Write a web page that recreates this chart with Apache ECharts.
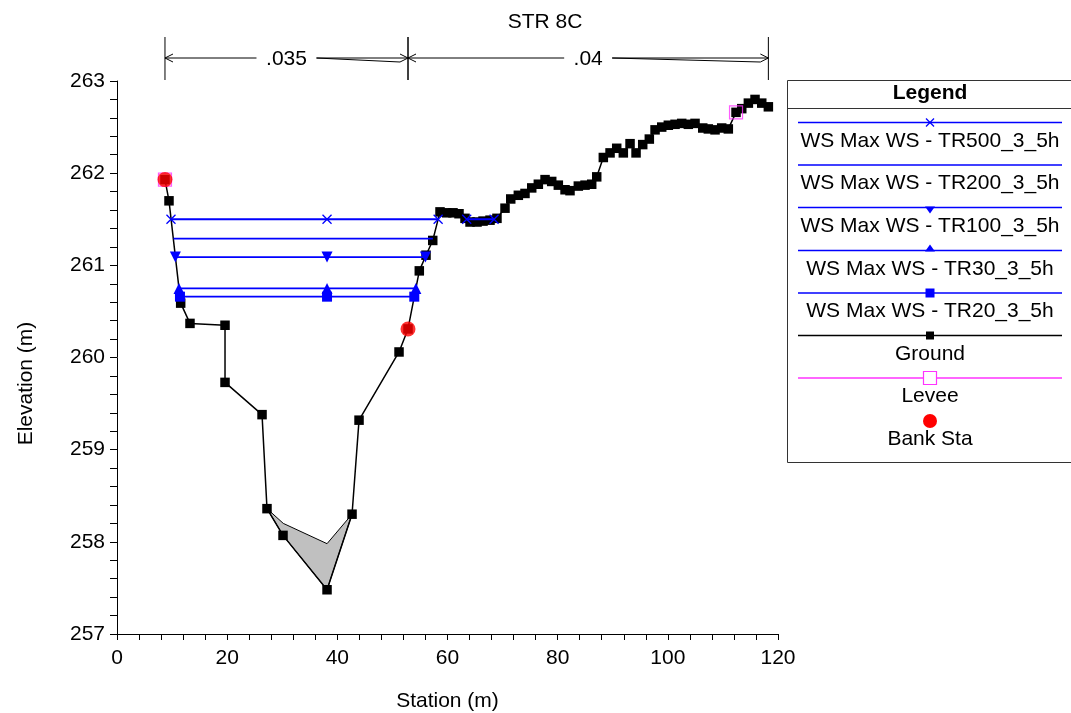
<!DOCTYPE html>
<html>
<head>
<meta charset="utf-8">
<script src="https://cdn.jsdelivr.net/npm/echarts@6/dist/echarts.min.js"></script>
<style>
html,body{margin:0;padding:0;background:#fff;}
#c{width:1071px;height:713px;}
</style>
</head>
<body>
<div id="c"></div>
<script>
// ---------- data ----------
const chartTitle = 'STR 8C';
const groundStation = [8.71, 9.44, 11.56, 13.25, 19.61, 19.61, 26.33, 27.23, 30.14, 38.13, 42.67, 43.94, 51.20, 52.83,
  54.88, 56.10, 57.32, 58.64, 59.86, 61.00, 62.09, 63.18, 64.09, 65.36, 66.45, 67.72, 68.98, 70.44, 71.48, 72.86, 74.07,
  75.29, 76.49, 77.71, 78.92, 80.12, 81.34, 82.24, 83.75, 84.97, 86.18, 87.09, 88.29, 89.51, 90.72, 91.92, 93.14, 94.23,
  95.44, 96.64, 97.68, 98.89, 100.09, 101.31, 102.52, 103.72, 104.94, 106.34, 107.35, 108.57, 109.78, 110.98, 112.38,
  113.42, 114.62, 115.83, 117.05, 118.25];
const groundElev = [261.93, 261.70, 260.59, 260.37, 260.35, 259.73, 259.38, 258.36, 258.07, 257.48, 258.30, 259.32, 260.06, 260.31,
  260.94, 261.11, 261.27, 261.58, 261.57, 261.57, 261.56, 261.51, 261.47, 261.47, 261.48, 261.49, 261.51, 261.62, 261.72, 261.76, 261.78,
  261.84, 261.88, 261.93, 261.91, 261.87, 261.82, 261.81, 261.86, 261.87, 261.88, 261.96, 262.17, 262.22, 262.27, 262.22, 262.32, 262.22,
  262.31, 262.37, 262.47, 262.50, 262.52, 262.53, 262.54, 262.53, 262.54, 262.49, 262.48, 262.47, 262.49, 262.48, 262.66,
  262.70, 262.76, 262.80, 262.76, 262.72];

const ws500 = [[9.80, 261.50], [38.13, 261.50], [58.30, 261.50], ['-', '-'], [63.49, 261.50], [68.45, 261.50]];
const ws200 = [[10.25, 261.29], [57.35, 261.29]];
const ws100 = [[10.60, 261.09], [38.13, 261.09], [56.00, 261.09]];
const ws30  = [[11.25, 260.75], [38.13, 260.75], [54.26, 260.75]];
const ws20  = [[11.43, 260.66], [38.13, 260.66], [53.97, 260.66]];

const leveeStation = [8.71, 112.38];
const leveeElev = [261.93, 262.66];
const bankStation = [8.71, 52.83];
const bankElev = [261.93, 260.31];

// grey filled region (upper outline then ground back)
const fillStation = [27.23, 30.19, 38.13, 42.67, 38.13, 30.14];
const fillElev = [258.36, 258.20, 257.98, 258.30, 257.48, 258.07];

// Manning's n regions
const nStart = [8.71, 52.83];
const nEnd = [52.83, 118.25];
const nValue = ['.035', '.04'];

const xTicks = {min: 0, max: 120, interval: 20};
const yTicks = {min: 257, max: 263, interval: 1};

const legendNames = ['WS Max WS - TR500_3_5h', 'WS Max WS - TR200_3_5h', 'WS Max WS - TR100_3_5h',
  'WS Max WS - TR30_3_5h', 'WS Max WS - TR20_3_5h', 'Ground', 'Levee', 'Bank Sta'];

// ---------- styling ----------
const FONT = '"Liberation Sans", Arial, sans-serif';
const FS = 21;
const BLUE = '#0000ff';
const xSym = 'path://M0,0L10,10M10,0L0,10';

function zip(a, b) { return a.map((v, i) => [v, b[i]]); }

const chart = echarts.init(document.getElementById('c'), null, {renderer: 'canvas'});

// legend graphic
const LX1 = 798, LX2 = 1062, LCX = 930;
const legendEls = [];
legendEls.push({type: 'rect', shape: {x: 787.5, y: 80.5, width: 286, height: 382}, style: {fill: '#fff', stroke: '#333', lineWidth: 1}, z: 10});
legendEls.push({type: 'text', x: LCX, y: 93, style: {text: 'Legend', font: 'bold ' + FS + 'px ' + FONT, fill: '#000', align: 'center', verticalAlign: 'middle'}, z: 11});
legendEls.push({type: 'line', shape: {x1: 787.5, y1: 108.5, x2: 1071, y2: 108.5}, style: {stroke: '#333', lineWidth: 1}, z: 11});
const lineYs = [122.5, 165, 207.5, 250.5, 293, 335.5, 378, 421];
const lineColors = [BLUE, BLUE, BLUE, BLUE, BLUE, '#000', '#ff33ff', null];
legendNames.forEach((nm, i) => {
  const ly = lineYs[i];
  if (lineColors[i]) {
    legendEls.push({type: 'line', shape: {x1: LX1, y1: ly, x2: LX2, y2: ly}, style: {stroke: lineColors[i], lineWidth: 1.5}, z: 11});
  }
  let m = null;
  if (i === 0) m = {type: 'group', z: 12, children: [
    {type: 'line', shape: {x1: LCX - 4, y1: ly - 4, x2: LCX + 4, y2: ly + 4}, style: {stroke: BLUE, lineWidth: 1.2}, z: 12},
    {type: 'line', shape: {x1: LCX - 4, y1: ly + 4, x2: LCX + 4, y2: ly - 4}, style: {stroke: BLUE, lineWidth: 1.2}, z: 12}]};
  if (i === 2) m = {type: 'polygon', shape: {points: [[LCX - 5, ly - 1], [LCX + 5, ly - 1], [LCX, ly + 6]]}, style: {fill: BLUE}, z: 12};
  if (i === 3) m = {type: 'polygon', shape: {points: [[LCX - 5, ly + 1], [LCX + 5, ly + 1], [LCX, ly - 6]]}, style: {fill: BLUE}, z: 12};
  if (i === 4) m = {type: 'rect', shape: {x: LCX - 4.5, y: ly - 4.5, width: 9, height: 9}, style: {fill: BLUE}, z: 12};
  if (i === 5) m = {type: 'rect', shape: {x: LCX - 4, y: ly - 4, width: 8, height: 8}, style: {fill: '#000'}, z: 12};
  if (i === 6) m = {type: 'rect', shape: {x: LCX - 6.5, y: ly - 6.5, width: 13, height: 13}, style: {fill: '#fff', stroke: '#ff33ff', lineWidth: 1.2}, z: 12};
  if (i === 7) m = {type: 'circle', shape: {cx: LCX, cy: ly, r: 7}, style: {fill: '#ff0000'}, z: 12};
  if (m) legendEls.push(m);
  legendEls.push({type: 'text', x: LCX, y: ly + 18.5, style: {text: nm, font: FS + 'px ' + FONT, fill: '#000', align: 'center', verticalAlign: 'middle'}, z: 11});
});

function lineSeries(name, data, symbol, opts) {
  return Object.assign({
    name: name, type: 'line', data: data, symbol: symbol, symbolSize: 10,
    showSymbol: symbol !== 'none', connectNulls: false,
    lineStyle: {color: BLUE, width: 1.8}, itemStyle: {color: BLUE},
    z: 4, animation: false
  }, opts || {});
}

const option = {
  animation: false,
  backgroundColor: '#fff',
  title: {text: chartTitle, left: 540, top: 7, textAlign: 'center', textStyle: {fontFamily: FONT, fontSize: FS, fontWeight: 'normal', color: '#000'}},
  grid: {left: 117, top: 81, width: 661, height: 553, containLabel: false, outerBoundsMode: 'none'},
  xAxis: {
    type: 'value', min: xTicks.min, max: xTicks.max, interval: xTicks.interval,
    name: 'Station (m)', nameLocation: 'middle', nameGap: 57,
    nameTextStyle: {fontFamily: FONT, fontSize: FS, color: '#000'},
    axisLine: {show: true, onZero: false, lineStyle: {color: '#000', width: 1}},
    axisTick: {show: true, inside: false, length: 6, lineStyle: {color: '#000'}},
    minorTick: {show: true, splitNumber: 5, length: 6, lineStyle: {color: '#000'}},
    splitLine: {show: false},
    axisLabel: {fontFamily: FONT, fontSize: FS, color: '#000', margin: 14}
  },
  yAxis: {
    type: 'value', min: yTicks.min, max: yTicks.max, interval: yTicks.interval,
    name: 'Elevation (m)', nameLocation: 'middle', nameGap: 80, nameRotate: 90,
    nameTextStyle: {fontFamily: FONT, fontSize: FS, color: '#000', padding: [0, 52, 0, 0]},
    axisLine: {show: true, onZero: false, lineStyle: {color: '#000', width: 1}},
    axisTick: {show: true, inside: false, length: 7, lineStyle: {color: '#000'}},
    minorTick: {show: true, splitNumber: 5, length: 7, lineStyle: {color: '#000'}},
    splitLine: {show: false},
    axisLabel: {fontFamily: FONT, fontSize: FS, color: '#000', margin: 12}
  },
  graphic: legendEls,
  series: [
    {
      type: 'custom', name: 'fill', data: [0], z: 1, clip: false, silent: true,
      renderItem: function (params, api) {
        const pts = fillStation.map((s, i) => api.coord([s, fillElev[i]]));
        return {type: 'polygon', shape: {points: pts}, style: {fill: '#c0c0c0', stroke: '#000', lineWidth: 1}};
      }
    },
    {
      type: 'custom', name: 'manning', data: nStart.map((s, i) => [s, nEnd[i], i]), z: 2, clip: false, silent: true,
      renderItem: function (params, api) {
        const i = api.value(2);
        const x1 = api.coord([api.value(0), yTicks.max])[0];
        const x2 = api.coord([api.value(1), yTicks.max])[0];
        const top = params.coordSys.y;
        const ly = top - 23;
        const cx = (x1 + x2) / 2;
        const label = nValue[i];
        const halfW = label.length * 6 + 6;
        const st = {stroke: '#000', lineWidth: 1, fill: null};
        return {type: 'group', children: [
          {type: 'line', shape: {x1: x1, y1: top - 44, x2: x1, y2: top - 1}, style: st},
          {type: 'line', shape: {x1: x2, y1: top - 44, x2: x2, y2: top - 1}, style: st},
          {type: 'line', shape: {x1: x1, y1: ly, x2: cx - halfW, y2: ly}, style: st},
          {type: 'line', shape: {x1: cx + halfW, y1: ly, x2: x2, y2: ly}, style: st},
          {type: 'polyline', shape: {points: [[cx + halfW, ly], [x2 - 8, ly + 4]]}, style: st},
          {type: 'polyline', shape: {points: [[x1 + 8, ly - 4], [x1, ly], [x1 + 8, ly + 4]]}, style: st},
          {type: 'polyline', shape: {points: [[x2 - 8, ly - 4], [x2, ly], [x2 - 8, ly + 4]]}, style: st},
          {type: 'text', x: cx, y: ly + 1, style: {text: label, font: FS + 'px ' + FONT, fill: '#000', align: 'center', verticalAlign: 'middle'}}
        ]};
      }
    },
    {
      name: 'Ground', type: 'line', data: zip(groundStation, groundElev), symbol: 'rect', symbolSize: 9.5,
      lineStyle: {color: '#000', width: 1.5}, itemStyle: {color: '#000'}, z: 3
    },
    lineSeries(legendNames[0], ws500, xSym, {symbolSize: 9, itemStyle: {color: 'rgba(0,0,0,0)', borderColor: BLUE, borderWidth: 1.3}}),
    lineSeries(legendNames[1], ws200, 'none'),
    lineSeries(legendNames[2], ws100, 'triangle', {symbolRotate: 180, symbolSize: 11}),
    lineSeries(legendNames[3], ws30, 'triangle', {symbolSize: 11}),
    lineSeries(legendNames[4], ws20, 'rect', {symbolSize: 10}),
    {
      name: 'Levee', type: 'scatter', data: zip(leveeStation, leveeElev), symbol: 'rect', symbolSize: 13,
      itemStyle: {color: 'rgba(0,0,0,0)', borderColor: '#ff33ff', borderWidth: 1.2}, z: 5
    },
    {
      name: 'Bank Sta', type: 'scatter', data: zip(bankStation, bankElev), symbol: 'circle', symbolSize: 15,
      itemStyle: {color: '#ff0000'}, z: 6
    }
  ]
};
chart.setOption(option);
</script>
</body>
</html>
